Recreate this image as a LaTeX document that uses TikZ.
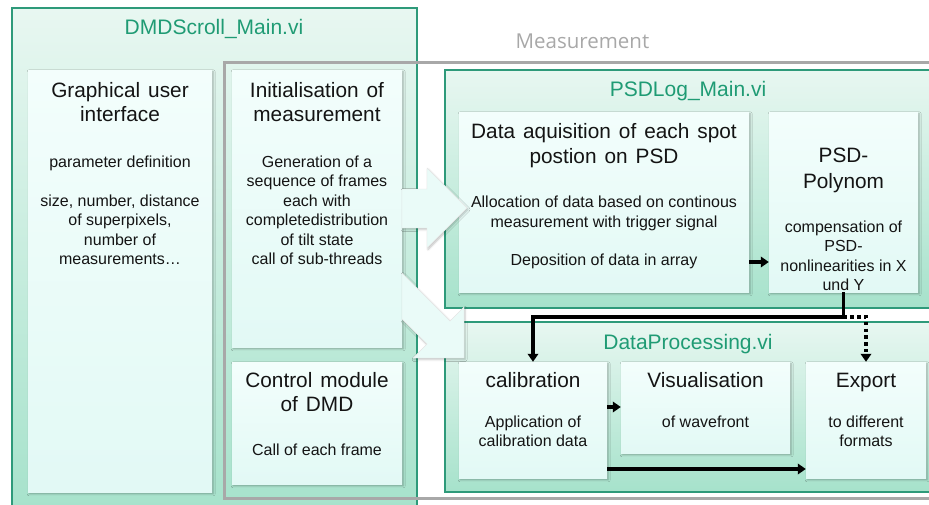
\documentclass[tikz,border=0pt]{standalone}
\usepackage{fontspec}
\setmainfont{Liberation Sans}
\newfontfamily\framefont{Open Sans}
\usetikzlibrary{arrows.meta,fit,shadows.blur}

\definecolor{tealline}{HTML}{2E9A7A}
\definecolor{tealtext}{HTML}{1F9B74}
\definecolor{tealtop}{HTML}{E8F7F1}
\definecolor{tealbot}{HTML}{A6E2CB}
\definecolor{boxtop}{HTML}{F3FEFC}
\definecolor{boxbot}{HTML}{E2F9F5}
\definecolor{framegray}{HTML}{A8A8A8}
\definecolor{arrowfill}{HTML}{EAFBF8}
\definecolor{ink}{HTML}{141414}

% one text node per line, baselines #4, #4+#5, ...
\newcommand\linesat[6]{%
  \foreach \lntext [count=\lnum] in {#6}{%
    \node[#2] (#1\lnum) at (#3,{#4+#5*(\lnum-1)}) {\lntext};}}

\tikzset{
  container/.style={draw=tealline, line width=1.1pt, top color=tealtop,
    bottom color=tealbot, inner sep=0pt, fit={#1}},
  measframe/.style={draw=framegray, line width=3pt, fill=none, inner sep=0pt, fit={#1}},
  module/.style={draw=none, top color=boxtop, bottom color=boxbot, inner sep=0pt,
    blur shadow={shadow xshift=1.2pt, shadow yshift=-1.8pt, shadow blur radius=2pt,
    shadow opacity=30}, fit={#1}},
  head/.style={font={\fontsize{20.8}{24}\selectfont\spaceskip=8pt\relax}, text=ink,
    inner sep=0pt, anchor=base},
  body/.style={font=\fontsize{16}{19}\selectfont, text=ink, inner sep=0pt, anchor=base},
  vititle/.style={font=\fontsize{21}{24}\selectfont, text=tealtext, inner sep=0pt, anchor=base},
  frametitle/.style={font=\framefont\fontsize{20.5}{24}\selectfont, text=framegray,
    inner sep=0pt, anchor=base},
  bigarrow/.style={fill=arrowfill, draw=black!10, line width=0.4pt,
    blur shadow={shadow xshift=1pt, shadow yshift=-1.5pt, shadow blur radius=2pt,
    shadow opacity=25}},
  conn/.style={line width=3.4pt, draw=black, -{Triangle[length=8pt,width=10.5pt]}},
  dotconn/.style={conn, dash pattern=on 3.4pt off 3.4pt},
}

\begin{document}
\begin{tikzpicture}[x=1pt,y=-1pt]
\useasboundingbox (0,0) rectangle (929,504);
\clip (0,0) rectangle (929,504);

% outer program containers and the measurement frame
\node[container={(12,8) (417,514)}] (dmd) {};
\node[measframe={(224,62) (944,498)}] (meas) {};
\node[container={(445,70) (944,308)}] (psdlog) {};
\node[container={(445,322) (944,492)}] (dproc) {};

% modules
\node[module={(28,70) (212,492)}] (gui) {};
\node[module={(232,70) (402,347)}] (init) {};
\node[module={(232,362) (402,484)}] (ctrl) {};
\node[module={(459,112) (749,292)}] (acq) {};
\node[module={(769,112) (918,292)}] (poly) {};
\node[module={(459,362) (607,478)}] (calib) {};
\node[module={(621,362) (790,453)}] (vis) {};
\node[module={(806,362) (926,478)}] (export) {};

% container titles
\node[vititle] (dmdT) at (214,34) {DMDScroll\_Main.vi};
\node[frametitle] (measT) at (582.5,48) {Measurement};
\node[vititle] (psdT) at (688,96) {PSDLog\_Main.vi};
\node[vititle] (dprocT) at (688,349) {DataProcessing.vi};

% module texts
\linesat{guiH}{head}{120}{97}{24}{Graphical user, interface}
\linesat{guiA}{body}{120}{167}{19.5}{parameter definition}
\linesat{guiB}{body}{120}{206}{19.5}{{size, number, distance},{of superpixels,},number of,measurements…}

\linesat{initH}{head}{317}{97}{24}{Initialisation of, measurement}
\linesat{initB}{body}{317}{167}{19.5}{Generation of a,sequence of frames,each with,completedistribution,of tilt state,call of sub-threads}

\linesat{ctrlH}{head}{317}{387}{24.5}{Control module, of DMD}
\linesat{ctrlB}{body}{317}{455.5}{19.5}{Call of each frame}

\linesat{acqH}{head}{604}{138}{25}{Data aquisition of each spot, postion on PSD}
\linesat{acqA}{body}{604}{207}{20}{Allocation of data based on continous,measurement with trigger signal}
\linesat{acqB}{body}{604}{265}{19.5}{Deposition of data in array}

\linesat{polyH}{head}{843.5}{162}{26.5}{PSD-, Polynom}
\linesat{polyB}{body}{843.5}{232}{19.5}{compensation of,PSD-,nonlinearities in X,und Y}

\linesat{calH}{head}{533}{387}{24}{calibration}
\linesat{calB}{body}{533}{427}{19.5}{Application of,calibration data}
\linesat{visH}{head}{705.5}{387}{24}{Visualisation}
\linesat{visB}{body}{705.5}{427}{19.5}{of wavefront}
\linesat{expH}{head}{866}{387}{24}{Export}
\linesat{expB}{body}{866}{427}{19.5}{to different,formats}

% block arrows out of the initialisation module
\filldraw[bigarrow] (402,189) -- (427,189) -- (427,168) -- (467,208) -- (427,248)
  -- (427,228) -- (402,228) -- cycle;
\filldraw[bigarrow] (402,273) -- (450,321) -- (464,307) -- (464,358) -- (413,358)
  -- (427,344) -- (402,319) -- cycle;

% data flow
\coordinate (splitrow) at (0,317);
\coordinate (a2p) at ([yshift=-60pt]acq.east);
\coordinate (c2v) at ([yshift=13pt]calib.east);
\coordinate (c2e) at ([yshift=-49pt]calib.east);
\draw[conn] (a2p) -- (a2p -| poly.west);
\draw[conn] (c2v) -- (c2v -| vis.west);
\draw[conn] (c2e) -- (c2e -| export.west);
\draw[dotconn] (poly.south |- splitrow) -| (export.north);
\draw[conn] (poly.south) -- (poly.south |- splitrow) -| (calib.north);
\end{tikzpicture}
\end{document}
